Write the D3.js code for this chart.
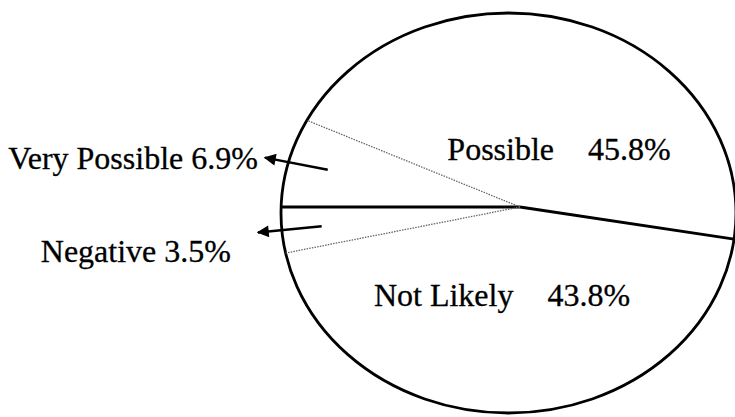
<!DOCTYPE html>
<html>
<head>
<meta charset="utf-8">
<style>
body { margin: 0; background: #fff; }
text { font-family: "Liberation Serif", "Times New Roman", serif; font-size: 32px; fill: #000; stroke: #000; stroke-width: 0.3; }
.rim { fill: none; stroke: #000; stroke-width: 2.8; }
.edge-solid { stroke: #000; stroke-width: 2.8; }
.edge-dotted { stroke: #666; stroke-width: 1.3; stroke-dasharray: 1.5,1.2; }
.pointer { stroke: #000; stroke-width: 2.4; }
</style>
</head>
<body>
<svg width="735" height="417"></svg>
<script src="https://d3js.org/d3.v7.min.js"></script>
<script>
// answers
var categories = ["Very Possible", "Possible", "Not Likely", "Negative"];
var values = [6.9, 45.8, 43.8, 3.5];
var groups = ["positive", "positive", "negative", "negative"];

var svg = d3.select("svg"),
    width = +svg.attr("width"),
    height = +svg.attr("height");

// the pie is drawn as a flattened ellipse, vertex a bit off its centre
var ell = {cx: 508.5, cy: 213, rx: 227.5, ry: 200};
var vx = 520, vy = 207;

var data = categories.map(function(c, i) {
  return {name: c, value: values[i], group: groups[i]};
});

var pie = d3.pie()
    .sort(null)
    .startAngle(-Math.PI / 2)
    .endAngle(3 * Math.PI / 2)
    .value(function(d) { return d.value; });
var arcs = pie(data);

// direction of a pie angle on the squashed disc
function dir(a) {
  return [Math.sin(a) * ell.rx, -Math.cos(a) * ell.ry];
}
// where the ray from the vertex meets the rim
function rimPoint(a) {
  var d = dir(a);
  var ox = (vx - ell.cx) / ell.rx, oy = (vy - ell.cy) / ell.ry;
  var dx = d[0] / ell.rx, dy = d[1] / ell.ry;
  var A = dx * dx + dy * dy, B = 2 * (ox * dx + oy * dy), C = ox * ox + oy * oy - 1;
  var t = (-B + Math.sqrt(B * B - 4 * A * C)) / (2 * A);
  return [vx + t * d[0], vy + t * d[1]];
}
function unit(a) {
  var d = dir(a), l = Math.hypot(d[0], d[1]);
  return [d[0] / l, d[1] / l];
}

svg.append("rect").attr("width", width).attr("height", height).attr("fill", "#fff");

svg.append("defs").append("marker")
    .attr("id", "head")
    .attr("viewBox", "0 0 10 10")
    .attr("refX", 9).attr("refY", 5)
    .attr("markerWidth", 17).attr("markerHeight", 12)
    .attr("markerUnits", "userSpaceOnUse")
    .attr("orient", "auto")
  .append("path")
    .attr("d", "M0,0L10,5L0,10z")
    .attr("fill", "#000");

svg.append("ellipse")
    .attr("class", "rim")
    .attr("cx", ell.cx).attr("cy", ell.cy)
    .attr("rx", ell.rx).attr("ry", ell.ry);

// slice boundaries: solid between the two groups, dotted inside a group
var n = arcs.length;
svg.append("g")
  .selectAll("line")
  .data(arcs)
  .enter().append("line")
    .attr("class", function(d, i) {
      var prev = arcs[(i - 1 + n) % n];
      return prev.data.group == d.data.group ? "edge-dotted" : "edge-solid";
    })
    .attr("x1", vx).attr("y1", vy)
    .attr("x2", function(d) { return rimPoint(d.startAngle)[0]; })
    .attr("y2", function(d) { return rimPoint(d.startAngle)[1]; });

var small = arcs.filter(function(d) { return d.data.value < 10; });
var big = arcs.filter(function(d) { return d.data.value >= 10; });

// small slices: arrow pointing out to a label on the left
small.forEach(function(d) {
  var mid = (d.startAngle + d.endAngle) / 2;
  var e = rimPoint(mid), u = unit(mid);
  var s = [e[0] - 40 * u[0], e[1] - 40 * u[1]];
  var t = [e[0] + 24 * u[0], e[1] + 24 * u[1]];
  svg.append("line")
      .attr("class", "pointer")
      .attr("x1", s[0]).attr("y1", s[1])
      .attr("x2", t[0]).attr("y2", t[1])
      .attr("marker-end", "url(#head)");
  var below = u[1] > 0;
  svg.append("text")
      .attr("text-anchor", "end")
      .attr("x", t[0] - (below ? 27 : 7))
      .attr("y", t[1] + (below ? 30 : 11))
      .text(d.data.name + " " + d.data.value.toFixed(1) + "%");
});

// big slices: label inside
big.forEach(function(d) {
  var mid = (d.startAngle + d.endAngle) / 2;
  var e = rimPoint(mid);
  var up = e[1] < vy;
  var x = up ? vx + 39 : vx - 18;
  var y = vy + (e[1] - vy) * (up ? 0.26 : 0.48);
  var txt = svg.append("text")
      .attr("text-anchor", "middle")
      .attr("x", x).attr("y", y);
  txt.append("tspan").text(d.data.name);
  txt.append("tspan").attr("dx", 34).text(d.data.value.toFixed(1) + "%");
});
</script>
</body>
</html>
